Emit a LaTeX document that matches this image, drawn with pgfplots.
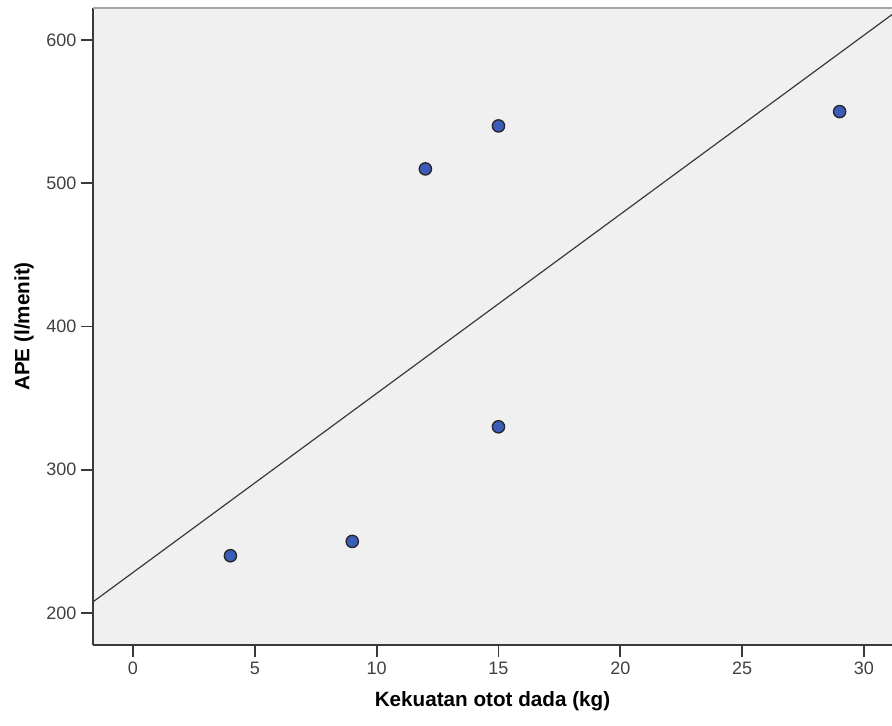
\documentclass[border=0pt]{standalone}
\usepackage{pgfplots}
\pgfplotsset{compat=1.18}
\usepackage{fontspec}
\setmainfont{Liberation Sans}
\definecolor{bgc}{HTML}{F0F0F0}
\definecolor{ptc}{HTML}{3B5CB8}
\definecolor{axc}{HTML}{3A3A3A}
\definecolor{tlc}{HTML}{404040}
\begin{document}
\begin{tikzpicture}
\useasboundingbox (-69.75pt,-60pt) rectangle (599.25pt,483.75pt);
\begin{axis}[
  at={(0,0)}, anchor=south west,
  scale only axis, width=599.25pt, height=477.75pt,
  xmin=-1.64, xmax=31.15, ymin=177.7, ymax=622.3,
  axis x line*=bottom, axis y line*=left,
  axis line style={-, axc, line width=1.4pt},
  axis background/.style={fill=bgc},
  xtick={0,5,...,30}, ytick={200,300,...,600},
  tick align=outside, major tick length=9pt,
  tick style={axc, line width=1.4pt},
  /pgf/number format/assume math mode=true,
  ticklabel style={font=\fontsize{13.5}{16}\selectfont, text=tlc},
  xlabel={Kekuatan otot dada (kg)},
  ylabel={APE (l/menit)},
  label style={font=\fontsize{15.5}{18}\selectfont\bfseries, text=black},
  xlabel style={at={(axis description cs:0.5,-0.0958)}, anchor=base},
  ylabel style={at={(axis description cs:-0.0864,0.5)}, anchor=center},
  clip=true,
]
\draw[gray!70, line width=1.4pt] (rel axis cs:0,1) -- (rel axis cs:1,1);
\addplot[no marks, color=axc, line width=0.9pt] coordinates {(-1.64,207.8) (31.15,617.7)};
\addplot[only marks, mark=*, mark size=4.6pt, mark options={fill=ptc, draw=black!85, line width=1pt}] coordinates {
(4,240) (9,250) (12,510) (15,540) (15,330) (29,550)};
\end{axis}
\end{tikzpicture}
\end{document}
